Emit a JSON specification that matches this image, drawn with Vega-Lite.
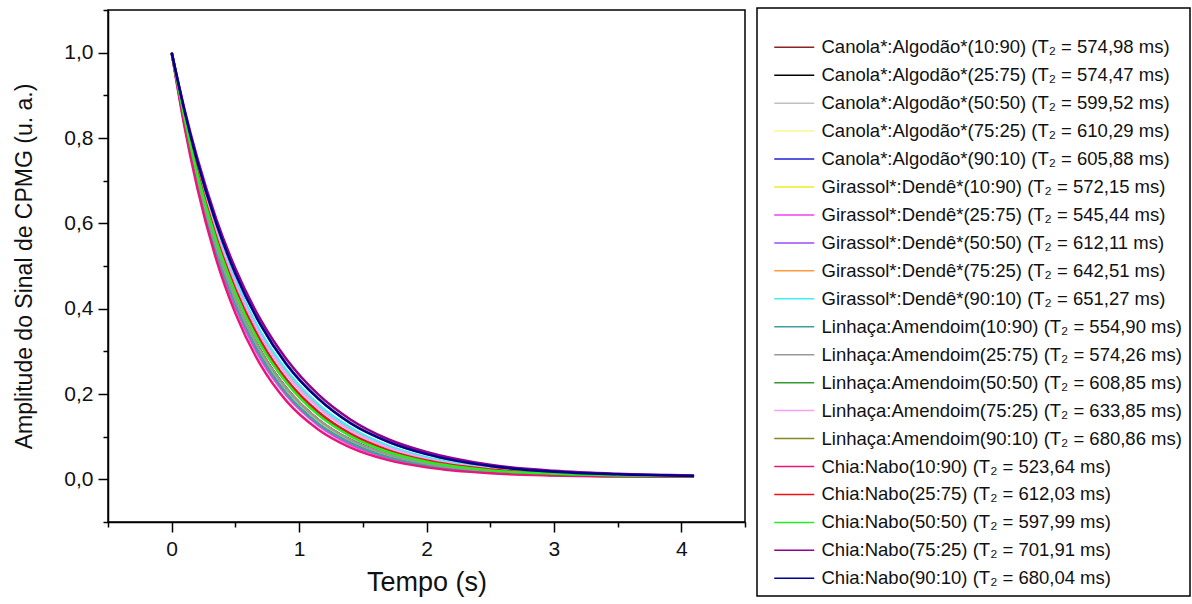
{
"$schema": "https://vega.github.io/schema/vega-lite/v6.json",
"width": 637, "height": 512,
"autosize": "none",
"padding": {"left": 108, "top": 10, "right": 447, "bottom": 82},
"background": "white",
"config": {"font": "Liberation Sans", "view": {"stroke": "black", "strokeWidth": 1.5}},
"datasets": {
"series": [
{"id":1,"name":"Canola*:Algodão*(10:90) (T₂ = 574,98 ms)"},
{"id":2,"name":"Canola*:Algodão*(25:75) (T₂ = 574,47 ms)"},
{"id":3,"name":"Canola*:Algodão*(50:50) (T₂ = 599,52 ms)"},
{"id":4,"name":"Canola*:Algodão*(75:25) (T₂ = 610,29 ms)"},
{"id":5,"name":"Canola*:Algodão*(90:10) (T₂ = 605,88 ms)"},
{"id":6,"name":"Girassol*:Dendê*(10:90) (T₂ = 572,15 ms)"},
{"id":7,"name":"Girassol*:Dendê*(25:75) (T₂ = 545,44 ms)"},
{"id":8,"name":"Girassol*:Dendê*(50:50) (T₂ = 612,11 ms)"},
{"id":9,"name":"Girassol*:Dendê*(75:25) (T₂ = 642,51 ms)"},
{"id":10,"name":"Girassol*:Dendê*(90:10) (T₂ = 651,27 ms)"},
{"id":11,"name":"Linhaça:Amendoim(10:90) (T₂ = 554,90 ms)"},
{"id":12,"name":"Linhaça:Amendoim(25:75) (T₂ = 574,26 ms)"},
{"id":13,"name":"Linhaça:Amendoim(50:50) (T₂ = 608,85 ms)"},
{"id":14,"name":"Linhaça:Amendoim(75:25) (T₂ = 633,85 ms)"},
{"id":15,"name":"Linhaça:Amendoim(90:10) (T₂ = 680,86 ms)"},
{"id":16,"name":"Chia:Nabo(10:90) (T₂ = 523,64 ms)"},
{"id":17,"name":"Chia:Nabo(25:75) (T₂ = 612,03 ms)"},
{"id":18,"name":"Chia:Nabo(50:50) (T₂ = 597,99 ms)"},
{"id":19,"name":"Chia:Nabo(75:25) (T₂ = 701,91 ms)"},
{"id":20,"name":"Chia:Nabo(90:10) (T₂ = 680,04 ms)"}
],
"pts": [
{"id":1,"t":0,"y":1},{"id":1,"t":0.1,"y":0.841},{"id":1,"t":0.2,"y":0.708},{"id":1,"t":0.35,"y":0.547},{"id":1,"t":0.5,"y":0.423},{"id":1,"t":0.7,"y":0.300},{"id":1,"t":0.9,"y":0.214},{"id":1,"t":1.15,"y":0.140},{"id":1,"t":1.4,"y":0.093},{"id":1,"t":1.7,"y":0.058},{"id":1,"t":2,"y":0.037},{"id":1,"t":2.5,"y":0.019},{"id":1,"t":3,"y":0.011},{"id":1,"t":3.5,"y":0.008},{"id":1,"t":4.1,"y":0.007},
{"id":2,"t":0,"y":1},{"id":2,"t":0.1,"y":0.841},{"id":2,"t":0.2,"y":0.708},{"id":2,"t":0.35,"y":0.546},{"id":2,"t":0.5,"y":0.422},{"id":2,"t":0.7,"y":0.300},{"id":2,"t":0.9,"y":0.213},{"id":2,"t":1.15,"y":0.140},{"id":2,"t":1.4,"y":0.093},{"id":2,"t":1.7,"y":0.058},{"id":2,"t":2,"y":0.037},{"id":2,"t":2.5,"y":0.019},{"id":2,"t":3,"y":0.011},{"id":2,"t":3.5,"y":0.008},{"id":2,"t":4.1,"y":0.007},
{"id":3,"t":0,"y":1},{"id":3,"t":0.1,"y":0.847},{"id":3,"t":0.2,"y":0.718},{"id":3,"t":0.35,"y":0.561},{"id":3,"t":0.5,"y":0.438},{"id":3,"t":0.7,"y":0.315},{"id":3,"t":0.9,"y":0.228},{"id":3,"t":1.15,"y":0.152},{"id":3,"t":1.4,"y":0.102},{"id":3,"t":1.7,"y":0.064},{"id":3,"t":2,"y":0.041},{"id":3,"t":2.5,"y":0.021},{"id":3,"t":3,"y":0.013},{"id":3,"t":3.5,"y":0.009},{"id":3,"t":4.1,"y":0.007},
{"id":4,"t":0,"y":1},{"id":4,"t":0.1,"y":0.850},{"id":4,"t":0.2,"y":0.722},{"id":4,"t":0.35,"y":0.566},{"id":4,"t":0.5,"y":0.444},{"id":4,"t":0.7,"y":0.322},{"id":4,"t":0.9,"y":0.233},{"id":4,"t":1.15,"y":0.157},{"id":4,"t":1.4,"y":0.106},{"id":4,"t":1.7,"y":0.067},{"id":4,"t":2,"y":0.044},{"id":4,"t":2.5,"y":0.022},{"id":4,"t":3,"y":0.013},{"id":4,"t":3.5,"y":0.009},{"id":4,"t":4.1,"y":0.007},
{"id":5,"t":0,"y":1},{"id":5,"t":0.1,"y":0.849},{"id":5,"t":0.2,"y":0.721},{"id":5,"t":0.35,"y":0.564},{"id":5,"t":0.5,"y":0.441},{"id":5,"t":0.7,"y":0.319},{"id":5,"t":0.9,"y":0.231},{"id":5,"t":1.15,"y":0.155},{"id":5,"t":1.4,"y":0.105},{"id":5,"t":1.7,"y":0.066},{"id":5,"t":2,"y":0.043},{"id":5,"t":2.5,"y":0.022},{"id":5,"t":3,"y":0.013},{"id":5,"t":3.5,"y":0.009},{"id":5,"t":4.1,"y":0.007},
{"id":6,"t":0,"y":1},{"id":6,"t":0.1,"y":0.841},{"id":6,"t":0.2,"y":0.707},{"id":6,"t":0.35,"y":0.545},{"id":6,"t":0.5,"y":0.421},{"id":6,"t":0.7,"y":0.298},{"id":6,"t":0.9,"y":0.212},{"id":6,"t":1.15,"y":0.139},{"id":6,"t":1.4,"y":0.092},{"id":6,"t":1.7,"y":0.057},{"id":6,"t":2,"y":0.036},{"id":6,"t":2.5,"y":0.019},{"id":6,"t":3,"y":0.011},{"id":6,"t":3.5,"y":0.008},{"id":6,"t":4.1,"y":0.007},
{"id":7,"t":0,"y":1},{"id":7,"t":0.1,"y":0.833},{"id":7,"t":0.2,"y":0.695},{"id":7,"t":0.35,"y":0.529},{"id":7,"t":0.5,"y":0.403},{"id":7,"t":0.7,"y":0.281},{"id":7,"t":0.9,"y":0.197},{"id":7,"t":1.15,"y":0.127},{"id":7,"t":1.4,"y":0.082},{"id":7,"t":1.7,"y":0.050},{"id":7,"t":2,"y":0.031},{"id":7,"t":2.5,"y":0.016},{"id":7,"t":3,"y":0.010},{"id":7,"t":3.5,"y":0.008},{"id":7,"t":4.1,"y":0.006},
{"id":8,"t":0,"y":1},{"id":8,"t":0.1,"y":0.850},{"id":8,"t":0.2,"y":0.723},{"id":8,"t":0.35,"y":0.567},{"id":8,"t":0.5,"y":0.445},{"id":8,"t":0.7,"y":0.323},{"id":8,"t":0.9,"y":0.234},{"id":8,"t":1.15,"y":0.158},{"id":8,"t":1.4,"y":0.107},{"id":8,"t":1.7,"y":0.068},{"id":8,"t":2,"y":0.044},{"id":8,"t":2.5,"y":0.023},{"id":8,"t":3,"y":0.013},{"id":8,"t":3.5,"y":0.009},{"id":8,"t":4.1,"y":0.007},
{"id":9,"t":0,"y":1},{"id":9,"t":0.1,"y":0.857},{"id":9,"t":0.2,"y":0.734},{"id":9,"t":0.35,"y":0.583},{"id":9,"t":0.5,"y":0.462},{"id":9,"t":0.7,"y":0.340},{"id":9,"t":0.9,"y":0.251},{"id":9,"t":1.15,"y":0.172},{"id":9,"t":1.4,"y":0.118},{"id":9,"t":1.7,"y":0.077},{"id":9,"t":2,"y":0.050},{"id":9,"t":2.5,"y":0.026},{"id":9,"t":3,"y":0.015},{"id":9,"t":3.5,"y":0.010},{"id":9,"t":4.1,"y":0.008},
{"id":10,"t":0,"y":1},{"id":10,"t":0.1,"y":0.859},{"id":10,"t":0.2,"y":0.737},{"id":10,"t":0.35,"y":0.587},{"id":10,"t":0.5,"y":0.467},{"id":10,"t":0.7,"y":0.345},{"id":10,"t":0.9,"y":0.256},{"id":10,"t":1.15,"y":0.176},{"id":10,"t":1.4,"y":0.122},{"id":10,"t":1.7,"y":0.079},{"id":10,"t":2,"y":0.052},{"id":10,"t":2.5,"y":0.027},{"id":10,"t":3,"y":0.016},{"id":10,"t":3.5,"y":0.011},{"id":10,"t":4.1,"y":0.008},
{"id":11,"t":0,"y":1},{"id":11,"t":0.1,"y":0.836},{"id":11,"t":0.2,"y":0.699},{"id":11,"t":0.35,"y":0.535},{"id":11,"t":0.5,"y":0.410},{"id":11,"t":0.7,"y":0.288},{"id":11,"t":0.9,"y":0.202},{"id":11,"t":1.15,"y":0.131},{"id":11,"t":1.4,"y":0.086},{"id":11,"t":1.7,"y":0.052},{"id":11,"t":2,"y":0.033},{"id":11,"t":2.5,"y":0.017},{"id":11,"t":3,"y":0.010},{"id":11,"t":3.5,"y":0.008},{"id":11,"t":4.1,"y":0.007},
{"id":12,"t":0,"y":1},{"id":12,"t":0.1,"y":0.841},{"id":12,"t":0.2,"y":0.708},{"id":12,"t":0.35,"y":0.546},{"id":12,"t":0.5,"y":0.422},{"id":12,"t":0.7,"y":0.300},{"id":12,"t":0.9,"y":0.213},{"id":12,"t":1.15,"y":0.140},{"id":12,"t":1.4,"y":0.093},{"id":12,"t":1.7,"y":0.058},{"id":12,"t":2,"y":0.037},{"id":12,"t":2.5,"y":0.019},{"id":12,"t":3,"y":0.011},{"id":12,"t":3.5,"y":0.008},{"id":12,"t":4.1,"y":0.007},
{"id":13,"t":0,"y":1},{"id":13,"t":0.1,"y":0.849},{"id":13,"t":0.2,"y":0.722},{"id":13,"t":0.35,"y":0.566},{"id":13,"t":0.5,"y":0.443},{"id":13,"t":0.7,"y":0.321},{"id":13,"t":0.9,"y":0.233},{"id":13,"t":1.15,"y":0.156},{"id":13,"t":1.4,"y":0.106},{"id":13,"t":1.7,"y":0.067},{"id":13,"t":2,"y":0.043},{"id":13,"t":2.5,"y":0.022},{"id":13,"t":3,"y":0.013},{"id":13,"t":3.5,"y":0.009},{"id":13,"t":4.1,"y":0.007},
{"id":14,"t":0,"y":1},{"id":14,"t":0.1,"y":0.855},{"id":14,"t":0.2,"y":0.731},{"id":14,"t":0.35,"y":0.578},{"id":14,"t":0.5,"y":0.458},{"id":14,"t":0.7,"y":0.335},{"id":14,"t":0.9,"y":0.246},{"id":14,"t":1.15,"y":0.168},{"id":14,"t":1.4,"y":0.115},{"id":14,"t":1.7,"y":0.074},{"id":14,"t":2,"y":0.048},{"id":14,"t":2.5,"y":0.025},{"id":14,"t":3,"y":0.015},{"id":14,"t":3.5,"y":0.010},{"id":14,"t":4.1,"y":0.008},
{"id":15,"t":0,"y":1},{"id":15,"t":0.1,"y":0.864},{"id":15,"t":0.2,"y":0.747},{"id":15,"t":0.35,"y":0.600},{"id":15,"t":0.5,"y":0.483},{"id":15,"t":0.7,"y":0.362},{"id":15,"t":0.9,"y":0.271},{"id":15,"t":1.15,"y":0.190},{"id":15,"t":1.4,"y":0.133},{"id":15,"t":1.7,"y":0.088},{"id":15,"t":2,"y":0.059},{"id":15,"t":2.5,"y":0.031},{"id":15,"t":3,"y":0.018},{"id":15,"t":3.5,"y":0.012},{"id":15,"t":4.1,"y":0.008},
{"id":16,"t":0,"y":1},{"id":16,"t":0.1,"y":0.827},{"id":16,"t":0.2,"y":0.684},{"id":16,"t":0.35,"y":0.515},{"id":16,"t":0.5,"y":0.389},{"id":16,"t":0.7,"y":0.267},{"id":16,"t":0.9,"y":0.184},{"id":16,"t":1.15,"y":0.117},{"id":16,"t":1.4,"y":0.075},{"id":16,"t":1.7,"y":0.045},{"id":16,"t":2,"y":0.028},{"id":16,"t":2.5,"y":0.014},{"id":16,"t":3,"y":0.009},{"id":16,"t":3.5,"y":0.007},{"id":16,"t":4.1,"y":0.006},
{"id":17,"t":0,"y":1},{"id":17,"t":0.1,"y":0.850},{"id":17,"t":0.2,"y":0.723},{"id":17,"t":0.35,"y":0.567},{"id":17,"t":0.5,"y":0.445},{"id":17,"t":0.7,"y":0.323},{"id":17,"t":0.9,"y":0.234},{"id":17,"t":1.15,"y":0.158},{"id":17,"t":1.4,"y":0.107},{"id":17,"t":1.7,"y":0.068},{"id":17,"t":2,"y":0.044},{"id":17,"t":2.5,"y":0.023},{"id":17,"t":3,"y":0.013},{"id":17,"t":3.5,"y":0.009},{"id":17,"t":4.1,"y":0.007},
{"id":18,"t":0,"y":1},{"id":18,"t":0.1,"y":0.847},{"id":18,"t":0.2,"y":0.717},{"id":18,"t":0.35,"y":0.560},{"id":18,"t":0.5,"y":0.437},{"id":18,"t":0.7,"y":0.314},{"id":18,"t":0.9,"y":0.227},{"id":18,"t":1.15,"y":0.151},{"id":18,"t":1.4,"y":0.102},{"id":18,"t":1.7,"y":0.064},{"id":18,"t":2,"y":0.041},{"id":18,"t":2.5,"y":0.021},{"id":18,"t":3,"y":0.013},{"id":18,"t":3.5,"y":0.009},{"id":18,"t":4.1,"y":0.007},
{"id":19,"t":0,"y":1},{"id":19,"t":0.1,"y":0.868},{"id":19,"t":0.2,"y":0.754},{"id":19,"t":0.35,"y":0.610},{"id":19,"t":0.5,"y":0.494},{"id":19,"t":0.7,"y":0.373},{"id":19,"t":0.9,"y":0.282},{"id":19,"t":1.15,"y":0.199},{"id":19,"t":1.4,"y":0.141},{"id":19,"t":1.7,"y":0.094},{"id":19,"t":2,"y":0.064},{"id":19,"t":2.5,"y":0.034},{"id":19,"t":3,"y":0.020},{"id":19,"t":3.5,"y":0.013},{"id":19,"t":4.1,"y":0.009},
{"id":20,"t":0,"y":1},{"id":20,"t":0.1,"y":0.864},{"id":20,"t":0.2,"y":0.746},{"id":20,"t":0.35,"y":0.600},{"id":20,"t":0.5,"y":0.482},{"id":20,"t":0.7,"y":0.361},{"id":20,"t":0.9,"y":0.270},{"id":20,"t":1.15,"y":0.189},{"id":20,"t":1.4,"y":0.132},{"id":20,"t":1.7,"y":0.088},{"id":20,"t":2,"y":0.059},{"id":20,"t":2.5,"y":0.031},{"id":20,"t":3,"y":0.018},{"id":20,"t":3.5,"y":0.012},{"id":20,"t":4.1,"y":0.008}
]
},
"data": {"name": "pts"},
"transform": [{"lookup": "id", "from": {"data": {"name": "series"}, "key": "id", "fields": ["name"]}}],
"mark": {"type": "line", "strokeWidth": 2.5, "interpolate": "monotone"},
"encoding": {
"x": {"field": "t", "type": "quantitative",
 "scale": {"domain": [-0.5, 4.5], "nice": false, "zero": false},
 "axis": {"values": [-0.5, 0, 0.5, 1, 1.5, 2, 2.5, 3, 3.5, 4, 4.5],
  "labelExpr": "datum.value % 1 == 0 ? format(datum.value, 'd') : ''",
  "tickSize": {"condition": {"test": "datum.value % 1 == 0", "value": 10}, "value": 5},
  "title": "Tempo (s)", "titleFontSize": 27, "titleFontWeight": "normal", "titleColor": "#111", "titlePadding": 10,
  "labelFontSize": 21, "labelColor": "#111", "labelPadding": 6, "labelFlush": false,
  "grid": false, "domainColor": "black", "domainWidth": 1.5, "tickColor": "black", "tickWidth": 1.5}},
"y": {"field": "y", "type": "quantitative",
 "scale": {"domain": [-0.1, 1.1], "nice": false, "zero": false},
 "axis": {"values": [-0.1, 0, 0.1, 0.2, 0.3, 0.4, 0.5, 0.6, 0.7, 0.8, 0.9, 1, 1.1],
  "labelExpr": "round(datum.value*10) % 2 == 0 ? replace(format(datum.value, '.1f'), '.', ',') : ''",
  "tickSize": {"condition": {"test": "round(datum.value*10) % 2 == 0", "value": 10}, "value": 5},
  "title": "Amplitude do Sinal de CPMG (u. a.)", "titleFontSize": 23, "titleFontWeight": "normal", "titleColor": "#111", "titlePadding": 27,
  "labelFontSize": 21, "labelColor": "#111", "labelPadding": 5, "labelFlush": false,
  "grid": false, "domainColor": "black", "domainWidth": 1.5, "tickColor": "black", "tickWidth": 1.5}},
"color": {"field": "name", "type": "nominal", "sort": {"field": "id", "op": "min"},
 "scale": {"range": ["#8b2323","#000000","#c0c0c0","#f7f78a","#1f1fd6","#ecec20","#f040f0","#9b4dff","#ff9a3c","#40f0f0","#3fa0a0","#999999","#339933","#f5a0f5","#888822","#e8177a","#f01010","#22ee22","#900090","#000090"]},
 "legend": {"title": " ", "titleFontSize": 11, "titlePadding": 11, "orient": "none", "legendX": 649, "legendY": -2, "direction": "vertical",
  "strokeColor": "black", "padding": 8, "symbolOffset": 20, "symbolType": "M-4,0H4", "symbolSize": 100, "symbolStrokeWidth": 1.5,
  "labelFontSize": 18.5, "labelColor": "#111", "labelLimit": 600, "labelOffset": 18, "rowPadding": 8.95,
  "encode": {"legend": {"update": {"strokeWidth": {"value": 1.5}}}}}}
}
}
